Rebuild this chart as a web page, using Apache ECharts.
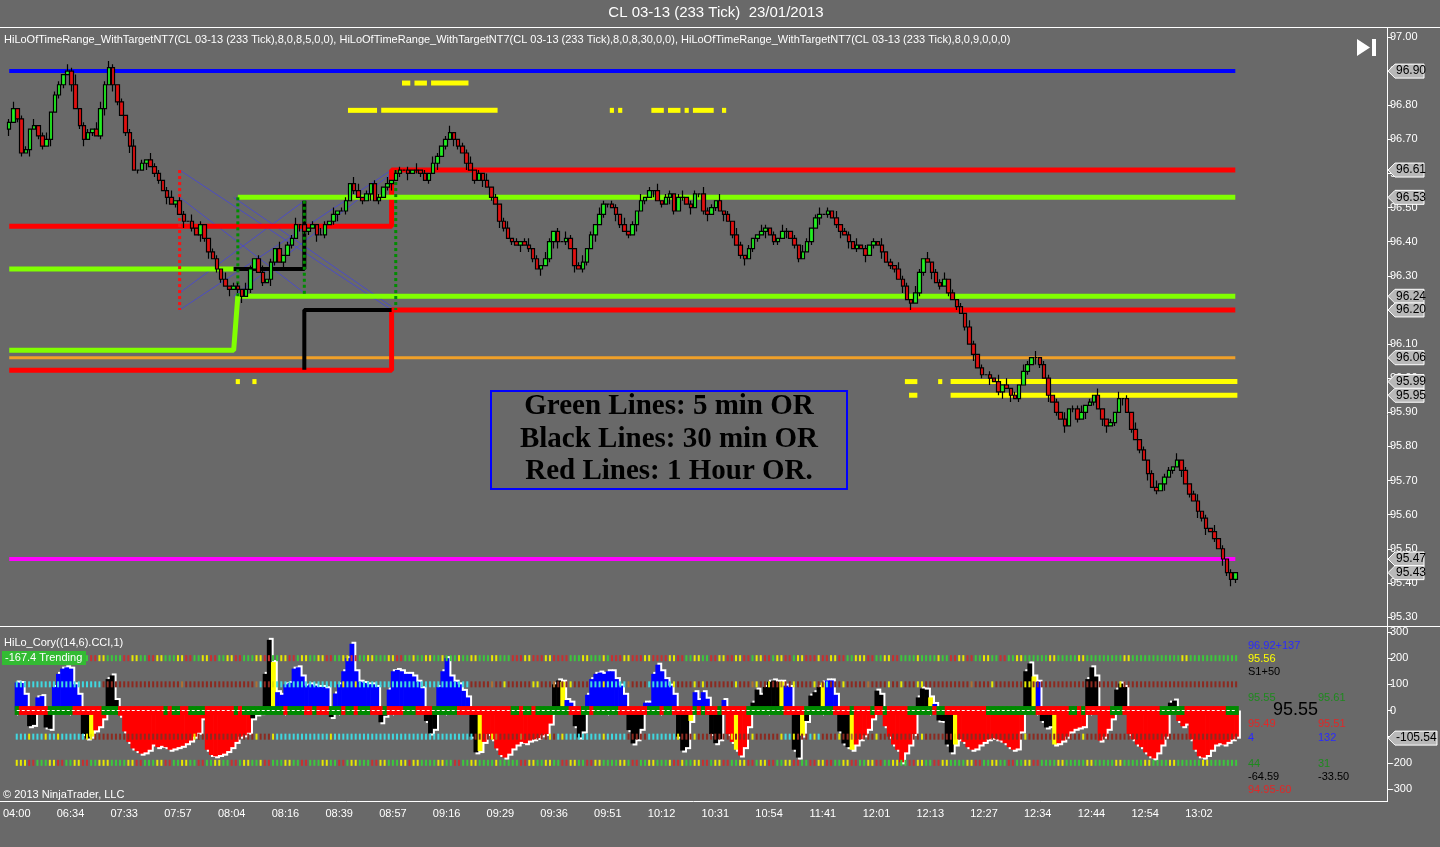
<!DOCTYPE html>
<html><head><meta charset="utf-8">
<script src="https://cdn.jsdelivr.net/npm/echarts/dist/echarts.min.js"></script>
<style>html,body{margin:0;padding:0;background:#696969;}#c{width:1440px;height:847px;}</style>
</head><body><div id="c"></div>
<script>
// ---------------- data ----------------
const tickLabels = ['04:00','06:34','07:33','07:57','08:04','08:16','08:39','08:57','09:16','09:29','09:36','09:51','10:12','10:31','10:54','11:41','12:01','12:13','12:27','12:34','12:44','12:54','13:02'];
const slotCount = 333;      // category slots on the x axis (bars + empty right margin)
const priceBase = 95.00;    // price values below are cents above this base

const barOpen = [
173,175,179,176,166,167,173,174,171,168,170,178,
183,186,189,190,186,179,174,170,172,173,171,179,
186,191,186,181,177,172,168,161,161,163,164,162,
160,158,155,153,151,152,148,146,146,144,142,145,
141,137,135,132,129,127,126,127,126,124,126,132,
135,131,128,129,134,138,134,136,139,141,145,145,
143,144,145,142,142,145,146,148,149,149,152,157,
155,153,152,154,157,152,153,156,157,158,160,161,
161,160,161,161,160,158,160,163,165,168,170,172,
170,168,166,163,161,158,160,158,156,153,151,146,
144,141,140,139,140,139,138,135,132,133,135,140,
143,140,140,141,138,133,132,134,138,142,145,148,
151,151,150,148,145,143,142,145,149,152,153,155,
155,152,151,153,154,149,153,153,151,150,154,154,
149,148,150,152,149,148,146,142,139,136,135,138,
141,142,143,144,142,140,141,143,143,141,139,135,
137,140,144,147,148,148,149,147,145,143,142,140,
138,139,138,136,139,140,139,137,134,133,132,129,
127,123,122,125,131,135,134,131,128,127,129,125,
123,121,119,115,110,107,103,101,101,100,99,96,
98,97,95,94,98,102,104,106,106,104,100,95,
93,90,88,86,91,91,88,90,92,93,95,91,
88,86,87,90,94,94,90,85,82,79,76,72,
68,67,69,71,73,74,76,73,69,66,64,61,
59,56,55,53,50,47,43,41];
const barClose = [
175,179,176,166,167,173,174,171,168,170,178,183,
186,189,190,186,179,174,170,172,173,171,179,186,
191,186,181,177,172,168,161,161,163,164,162,160,
158,155,153,151,152,148,146,146,144,142,145,141,
137,135,132,129,127,126,127,126,124,126,132,135,
131,128,129,134,138,134,136,139,141,145,145,143,
144,145,142,142,145,146,148,149,149,152,157,155,
153,152,154,157,152,153,156,157,158,160,161,161,
160,161,161,160,158,160,163,165,168,170,172,170,
168,166,163,161,158,160,158,156,153,151,146,144,
141,140,139,140,139,138,135,132,133,135,140,143,
140,140,141,138,133,132,134,138,142,145,148,151,
151,150,148,145,143,142,145,149,152,153,155,155,
152,151,153,154,149,153,153,151,150,154,154,149,
148,150,152,149,148,146,142,139,136,135,138,141,
142,143,144,142,140,141,143,143,141,139,135,137,
140,144,147,148,148,149,147,145,143,142,140,138,
139,138,136,139,140,139,137,134,133,132,129,127,
123,122,125,131,135,134,131,128,127,129,125,123,
121,119,115,110,107,103,101,101,100,99,96,98,
97,95,94,98,102,104,106,106,104,100,95,93,
90,88,86,91,91,88,90,92,93,95,91,88,
86,87,90,94,94,90,85,82,79,76,72,68,
67,69,71,73,74,76,73,69,66,64,61,59,
56,55,53,50,47,43,41,43];
const wickUp =
"120110201201102130110221210101201021101201102010011020110210120102011201010210201102201011020110102010210120011201020101201012010210102101201021011020102010201101201102110201021010021010210102101201020110201010201021102102011201010210101020201021020110102011201020010201020101201102010120"+"10201010";
const wickDown =
"201102011020110201201012021012010201102010201021201102012010010210201021102010120101010201012010201101020102102010201021010201102012201020110201102101020102010210102011201020101201102011020110010201012020102010201102020110201010101020102012020101021020102011020102201020101020102010201021"+"20102121";

// oscillator histogram (HiLo_Cory CCI)
const oscValues = [
107,105,60,-60,-55,50,55,-65,-70,90,140,160,
165,160,100,60,-90,-107,-100,-76,-60,-30,120,134,
40,-20,-80,-120,-145,-155,-165,-160,-150,-130,-140,-135,
-140,-150,-145,-140,-135,-125,-115,-100,-85,-30,-150,-170,
-175,-170,-165,-155,-140,-120,-100,-95,-85,-30,-15,-10,
140,270,185,70,60,100,105,160,165,130,95,100,
95,90,90,85,-25,65,100,150,200,255,150,110,
105,100,100,90,-45,-20,80,150,155,150,140,140,
130,110,85,-40,-88,-70,90,150,200,130,110,100,
75,50,-100,-160,-155,-120,-90,-110,-145,-170,-180,-165,
-145,-130,-120,-125,-115,-110,-105,-95,-90,-50,100,115,
110,40,30,-60,-103,-80,60,120,140,145,140,150,
150,120,95,60,-75,-126,-110,-70,30,30,140,175,
150,120,95,60,-100,-153,-140,-40,70,40,70,45,
-90,-125,-110,40,-90,-120,-150,-172,-140,-60,30,80,
60,90,110,115,110,110,95,90,-150,-180,-96,-40,
57,70,90,107,115,115,60,-80,-126,-140,-150,-130,
-110,-95,-70,-30,76,60,-60,-100,-130,-150,-198,-160,
-130,-90,50,84,80,50,25,-38,-40,-130,-160,-130,
-110,-120,-140,-150,-145,-130,-120,-110,-105,-110,-115,-125,
-140,-150,-145,-80,150,180,130,110,-40,-65,-60,-130,
-125,-115,-100,-80,-70,-65,-60,120,165,130,-115,-100,
-70,-30,80,103,90,-90,-110,-130,-140,-160,-175,-183,
-160,-130,-100,30,38,-40,-60,-50,-110,-150,-175,-180,
-170,-150,-130,-125,-130,-120,-110,-100];
const oscColorCodes =
"BBBKKBBKKBBB"+"BBBBKKYRRRKK"+"KRRRRRRRRRRR"+"RRRRRRRRRRRR"+"RRRRRRRRRKRR"+"KKYBBBBBBBBB"+
"BBBBKBBBBBBB"+"BBBBKKBBBBBB"+"BBBKKKBBBBBB"+"BBKKYRRRRRRR"+"RRRRRRRRRRKK"+"YBBKKKBBBBBB"+
"BBBBKKKKBBBB"+"BBBBKKKYBBBB"+"KKKBRRYRRRKK"+"KKKKKYBBKKYK"+"KKKYBBBKKKYR"+"RRRRKKRRRRRR"+
"RRKKKYBKKKKY"+"RRRRRRRRRRRR"+"RRRRKKYBKKKY"+"RRRRRRRKKKRR"+"RRKKKRRRRRRR"+"RRRKKRRRRRRR"+"RRRRRRRR";
const zeroBandCodes =
"GRRRRRRRGGGG"+"GGRRRRRRRGGG"+"GRRRRRRRRRRR"+"GRGGRRGGGGRR"+"RRRRRGRGGGGG"+"GGGGGRGGGGRR"+
"GRRRGGGRGGRG"+"GGRRRGRRRRGG"+"GRRRRGGGGGGR"+"RRRRRRRRRRRR"+"GGRGGRGGGGGG"+"GGRRRGGRGGGG"+
"GGRRRRRRRGGG"+"RGGRRRRRGRGR"+"RRGRRRRRRGGG"+"GGGGGGRRRRRG"+"GGGGGGRRRRGR"+"RRRGRRGRRRRR"+
"GGGGGGRGGRRR"+"RRRRRRRGGGGG"+"GGGGGGGRRRRR"+"RRRGGRGRRRRR"+"RGGGRRRRRRRR"+"RGGGGGGRRRRR"+"RRRRRGGG";
const oscLevels = [200, 100, -100, -200];
const levelDotCodes = [
 "ggyyrrgggyyr"+"rrgyygrryygg"+"ggrryyggrryy"+"gggyyrrggyyr"+"rggyyrrgggyy"+"rrggyyrrgyyg"+"gyyrrggyyrrg"+"gyygggyyrrgg"+"yggyyggygggy"+"ggyygggyyggg"+"rrryyrrryyrr"+"rrgggyygggyg"+"rrryyrrryyrr"+"rryyrrggyygg"+"rryyrryyrrgy"+"yrrgyyrrgyyr"+"rryrryyrrggy"+"yyrrggyyrrgg"+"ggyggggyggrr"+"yyrrggyyggrr"+"ggyyggggggyy"+"gggggyyggggg"+"ggggyygggggg"+"ggggggyygggg"+"gggggggg",
 "cccccccccccc"+"cccccccccddd"+"dddddddddddd"+"ddddoddddddd"+"ddddddddddoc"+"ddyccccccccc"+"cccccccyccyc"+"cccccccccccc"+"cccccccccccc"+"ccdddddoddyd"+"dddddyydddod"+"ddyddddcccyc"+"ccccoddddccc"+"cccyddddydyd"+"ddddddydddoy"+"ddyddoddyddd"+"dyddcdddyddd"+"ddoddddyddyd"+"ddyydddddddd"+"dddoddddyddd"+"ddddyydddddd"+"dddddddddddd"+"dddydddddddd"+"dddddddddddd"+"dddddddd",
 "cccycccyccyc"+"cccccyyddddd"+"dddddddddddd"+"dddddddydddd"+"ddddddddddyd"+"ddyccccccccc"+"ccccyccccccc"+"cccccccccccc"+"cccccccccccc"+"cccddddyoddd"+"ddoddddddydc"+"ycccccccccyc"+"ccccdddddccc"+"ccccydddyddd"+"dddddyddddyd"+"dddddyccyddd"+"cycddddyddod"+"ddddyddddddd"+"dddydddddddy"+"dddddddddddd"+"ddddyddddddd"+"ddddddyddddd"+"dddddddddddd"+"dddddddddddd"+"dddddddd",
 "yyyrrgggyyrr"+"ggyyrrggyyyg"+"gggyyrrgggyy"+"rrggyyggrrgg"+"yyggrrgyyggy"+"rrgggyyggrrg"+"ggyyggrrgyyg"+"ggrryygggyyr"+"yyggggyyggrr"+"ggyyggggyggg"+"ggrryyggyygg"+"rryyggrryygg"+"ggyygrrggyyg"+"ggyrryggyyrr"+"gyyrrggyyrrg"+"yyrrggyyrrgg"+"rryyrrggyyrr"+"ggyyrrggyygg"+"rryyggrryygg"+"ggyyrrggyygg"+"rrggyyrrgggg"+"yygggggyyggg"+"ggyygggggyyg"+"gggyyggggggy"+"yggggggg"
];

// horizontal levels (price)
const blueLevel = 96.90, orangeLevel = 96.06, magentaLevel = 95.47;
const redHourHigh = [[1,96.445],[93,96.445],[93,96.61],[296,96.61]];
const redHourLow  = [[1,96.023],[93,96.023],[93,96.20],[296,96.20]];
const green5High1 = [[1,96.32],[55,96.32]];
const green5High2 = [[56,96.53],[296,96.53]];
const green5Low   = [[1,96.082],[55,96.082],[56,96.24],[296,96.24]];
const black30High = [[55,96.32],[72,96.32],[72,96.52]];
const black30Low  = [[72,96.025],[72,96.20],[93,96.20]];
const redDotted   = [[42,96.61],[42,96.20]];
const greenDotted = [[[56,96.53],[56,96.24]],[[72,96.52],[72,96.24]],[[94,96.61],[94,96.20]]];
const fanLines = [[[42,96.61],[93,96.20]],[[42,96.20],[93,96.61]],[[42,96.53],[72,96.25]],[[42,96.25],[72,96.52]],[[55,96.53],[93,96.21]],[[55,96.24],[93,96.60]]];
const yellowSegments = [
 [96,97,96.865],[99,101,96.865],[103,111,96.865],
 [83,89,96.785],[91,118,96.785],[146,146,96.785],[148,148,96.785],[156,158,96.785],[160,162,96.785],[164,164,96.785],[166,170,96.785],[173,173,96.785],
 [56,56,95.99],[60,60,95.99],[217,219,95.99],[225,225,95.99],[228,296,95.99],
 [218,219,95.95],[228,296,95.95]];
const priceTags = [96.90, 96.61, 96.53, 96.24, 96.20, 96.06, 95.99, 95.95, 95.47, 95.43];
const oscTag = -105.54;

// ---------------- build ----------------
const slots = []; for (let i = 0; i < slotCount; i++) slots.push(String(i));
const candleData = ['-'];
for (let i = 0; i < barClose.length; i++) {
  const o = barOpen[i], c = barClose[i];
  const h = Math.max(o, c) + Number(wickUp.charAt(i) || 0);
  const l = Math.min(o, c) - Number(wickDown.charAt(i) || 0);
  candleData.push([(priceBase*100 + o)/100, (priceBase*100 + c)/100, (priceBase*100 + l)/100, (priceBase*100 + h)/100]);
}
const histColor = {B:'#0000ff', R:'#ff0000', K:'#000000', Y:'#ffff00'};
const histData = oscValues.map((v, i) => [i + 1, v]);
const barIdx = oscValues.map((v, i) => [i + 1, 0]);
const dotColor = {g:'#3cc83c', y:'#e8e800', r:'#c83030', c:'#40d8e0', d:'#8c2a20', o:'#b07030'};

function lineSeries(data, color, width, xi, yi, type, z) {
  return {type:'line', data, xAxisIndex: xi||0, yAxisIndex: yi||0, symbol:'none', silent:true, animation:false,
    lineStyle:{color, width, type: type||'solid', cap:'butt'}, z: z||2};
}
function histRender(white) {
  return (params, api) => {
    const i = api.value(0), v = api.value(1);
    const bw = api.size([1, 0])[0];
    const p0 = api.coord([i, 0]), p1 = api.coord([i, v]);
    let x = p0[0] - bw/2, y = Math.min(p0[1], p1[1]), h = Math.abs(p1[1] - p0[1]);
    if (white) { x += 2; if (v >= 0) { y -= 2; } h += 2; }
    return {type:'rect', shape:{x, y, width: bw + 0.7, height: h},
      style:{fill: white ? '#ffffff' : (histColor[oscColorCodes.charAt(params.dataIndex)] || '#ff0000')}};
  };
}

const series = [];
series.push(lineSeries([[1,blueLevel],[296,blueLevel]], '#0000ff', 4));
series.push(lineSeries([[1,orangeLevel],[296,orangeLevel]], '#f0a028', 3));
series.push(lineSeries([[1,magentaLevel],[296,magentaLevel]], '#ff00ff', 4));
fanLines.forEach(f => series.push(lineSeries(f, 'rgba(70,70,210,0.85)', 1)));
series.push(lineSeries(redHourHigh, '#ff0000', 5));
series.push(lineSeries(redHourLow, '#ff0000', 5));
series.push(lineSeries(green5High1, '#80ff00', 5));
series.push(lineSeries(green5High2, '#80ff00', 5));
series.push(lineSeries(green5Low, '#80ff00', 5));
series.push(lineSeries(black30High, '#000000', 4));
series.push(lineSeries(black30Low, '#000000', 4));
series.push(lineSeries(redDotted, '#ff1010', 3, 0, 0, [3,3]));
greenDotted.forEach(d => series.push(lineSeries(d, '#008c00', 3, 0, 0, [3,3])));
series.push({type:'custom', xAxisIndex:0, yAxisIndex:0, data: yellowSegments, encode:{x:0, y:2}, silent:true, z:3,
  renderItem: (params, api) => {
    const p1 = api.coord([api.value(0), api.value(2)]);
    const p2 = api.coord([api.value(1), api.value(2)]);
    const bw = api.size([1, 0])[0];
    return {type:'rect', shape:{x:p1[0]-bw/2, y:p1[1]-2.5, width:p2[0]-p1[0]+bw, height:5}, style:{fill:'#ffff00'}};
  }});
series.push({type:'candlestick', xAxisIndex:0, yAxisIndex:0, data: candleData, barWidth: 4, z:5, silent:true,
  itemStyle:{color:'#22ee22', color0:'#e01010', borderColor:'#000000', borderColor0:'#000000', borderWidth:1.2}});
// oscillator: white outline pass, then coloured histogram
series.push({type:'custom', xAxisIndex:1, yAxisIndex:1, data: histData, encode:{x:0, y:1}, silent:true, z:1, renderItem: histRender(true)});
series.push({type:'custom', xAxisIndex:1, yAxisIndex:1, data: histData, encode:{x:0, y:1}, silent:true, z:2, renderItem: histRender(false)});
series.push({type:'custom', xAxisIndex:1, yAxisIndex:1, data: barIdx, encode:{x:0, y:1}, silent:true, z:3,
  renderItem: (params, api) => {
    const i = api.value(0), k = params.dataIndex;
    const bw = api.size([1, 0])[0];
    const children = oscLevels.map((lv, j) => {
      const p = api.coord([i, lv]);
      return {type:'rect', shape:{x:p[0]-1, y:p[1]-3, width:2, height:6}, style:{fill: dotColor[levelDotCodes[j].charAt(k)] || '#3cc83c'}};
    });
    const t = api.coord([i, 17]), b = api.coord([i, -17]);
    children.push({type:'rect', shape:{x:t[0]-bw/2, y:t[1], width:bw+0.6, height:b[1]-t[1]},
      style:{fill: zeroBandCodes.charAt(k) === 'G' ? '#008a00' : '#ff0000'}});
    return {type:'group', children};
  }});
series.push(lineSeries([[1,0],[296,0]], '#ffffff', 1, 1, 1, [3,2], 4));

const labelFn = (idx) => idx % 13 === 1 && idx <= 1 + 13 * (tickLabels.length - 1);
const option = {
  animation: false,
  backgroundColor: '#696969',
  textStyle: {fontFamily: '"Liberation Sans", Arial, sans-serif'},
  grid: [
    {left: 3, right: 53, top: 37, height: 580},
    {left: 3, right: 53, top: 632, height: 157}
  ],
  xAxis: [
    {type:'category', gridIndex:0, data: slots, show:false},
    {type:'category', gridIndex:1, data: slots, position:'bottom', offset:12,
      axisLine:{show:false},
      axisTick:{show:true, alignWithLabel:true, interval: labelFn, length:5, lineStyle:{color:'#ffffff'}},
      axisLabel:{interval: labelFn, color:'#ffffff', fontSize:11, margin:7, alignMinLabel:'center',
        formatter: (v, idx) => tickLabels[(idx - 1) / 13] || ''},
      splitLine:{show:false}}
  ],
  yAxis: [
    {type:'value', gridIndex:0, position:'right', min:95.3, max:97.0, interval:0.1,
      axisLine:{show:false}, axisTick:{show:true, length:5, lineStyle:{color:'#ffffff'}},
      axisLabel:{color:'#ffffff', fontSize:11, margin:3, formatter: v => v.toFixed(2)}, splitLine:{show:false}},
    {type:'value', gridIndex:1, position:'right', min:-300, max:300, interval:100,
      axisLine:{show:false}, axisTick:{show:true, length:5, lineStyle:{color:'#ffffff'}},
      axisLabel:{color:'#ffffff', fontSize:11, margin:3}, splitLine:{show:false}}
  ],
  series
};
const chart = echarts.init(document.getElementById('c'), null, {renderer:'canvas'});
chart.setOption(option);

// ---------------- annotations ----------------
const F = '"Liberation Sans", Arial, sans-serif';
const W = '#ffffff';
function txt(x, y, s, fill, size, extra) {
  return Object.assign({type:'text', x, y, z:100, silent:true,
    style: {text: s, fill, font: (size||11) + 'px ' + F, textVerticalAlign:'middle', textAlign:'left'}}, extra || {});
}
const g = [];
g.push({type:'text', x:716, y:13, z:100, silent:true, style:{text:'CL 03-13 (233 Tick)  23/01/2013', fill:W, font:'15px '+F, textAlign:'center', textVerticalAlign:'middle'}});
g.push({type:'line', z:100, silent:true, shape:{x1:0, y1:27.5, x2:1440, y2:27.5}, style:{stroke:W, lineWidth:1}});
g.push({type:'line', z:100, silent:true, shape:{x1:0, y1:626.5, x2:1440, y2:626.5}, style:{stroke:W, lineWidth:1}});
g.push({type:'line', z:100, silent:true, shape:{x1:0, y1:801.5, x2:1387, y2:801.5}, style:{stroke:W, lineWidth:1}});
g.push({type:'line', z:100, silent:true, shape:{x1:1387.5, y1:27, x2:1387.5, y2:802}, style:{stroke:W, lineWidth:1}});
g.push(txt(4, 40, 'HiLoOfTimeRange_WithTargetNT7(CL 03-13 (233 Tick),8,0,8,5,0,0), HiLoOfTimeRange_WithTargetNT7(CL 03-13 (233 Tick),8,0,8,30,0,0), HiLoOfTimeRange_WithTargetNT7(CL 03-13 (233 Tick),8,0,9,0,0,0)', W, 11));
g.push({type:'polygon', z:100, silent:true, shape:{points:[[1357,39],[1357,56],[1370,47.5]]}, style:{fill:W}});
g.push({type:'rect', z:100, silent:true, shape:{x:1372, y:39, width:4, height:17}, style:{fill:W}});
g.push({type:'rect', z:100, silent:true, shape:{x:491, y:391, width:356, height:98}, style:{fill:'rgba(0,0,0,0)', stroke:'#0000ff', lineWidth:2}});
['Green Lines: 5 min OR', 'Black Lines: 30 min OR', 'Red Lines: 1 Hour OR.'].forEach((s, k) => {
  g.push({type:'text', x:669, y:407 + k*32.5, z:100, silent:true,
    style:{text:s, fill:'#000000', font:'bold 29px "Liberation Serif", "Times New Roman", serif', textAlign:'center', textVerticalAlign:'middle'}});
});
g.push(txt(3, 795, '\u00a9 2013 NinjaTrader, LLC', W, 11));
g.push(txt(4, 643, 'HiLo_Cory((14,6).CCI,1)', W, 11));
g.push({type:'rect', z:100, silent:true, shape:{x:2, y:651, width:84, height:14}, style:{fill:'#33bb33'}});
g.push(txt(5, 658, '-167.4 Trending', W, 11));
const info = [
  [1248, 646, '96.92+137', '#2a2aff'], [1248, 659, '95.56', '#ffff00'], [1248, 672, 'S1+50', '#000000'],
  [1248, 698, '95.55', '#1e8a1e'], [1318, 698, '95.61', '#1e8a1e'],
  [1248, 724, '95.49', '#e02828'], [1318, 724, '95.51', '#e02828'],
  [1248, 738, '4', '#2a2aff'], [1318, 738, '132', '#2a2aff'],
  [1248, 764, '44', '#1e8a1e'], [1318, 764, '31', '#1e8a1e'],
  [1248, 777, '-64.59', '#000000'], [1318, 777, '-33.50', '#000000'],
  [1248, 790, '94.95-60', '#e02828']];
info.forEach(a => g.push(txt(a[0], a[1], a[2], a[3], 11)));
g.push(txt(1273, 710, '95.55', '#000000', 18));
function tag(y, s, right) {
  g.push({type:'polygon', z:110, silent:true, shape:{points:[[1388,y],[1395,y-7],[right,y-7],[right,y+7],[1395,y+7]]},
    style:{fill:'#b8b8b8', stroke:'#ffffff', lineWidth:1}});
  g.push({type:'text', x:1396, y:y, z:111, silent:true, style:{text:s, fill:'#000000', font:'12px '+F, textVerticalAlign:'middle'}});
}
priceTags.forEach(p => tag(chart.convertToPixel({yAxisIndex:0}, p), p.toFixed(2), 1424));
tag(chart.convertToPixel({yAxisIndex:1}, oscTag), oscTag.toFixed(2), 1437);
chart.setOption({graphic: g});
</script></body></html>
